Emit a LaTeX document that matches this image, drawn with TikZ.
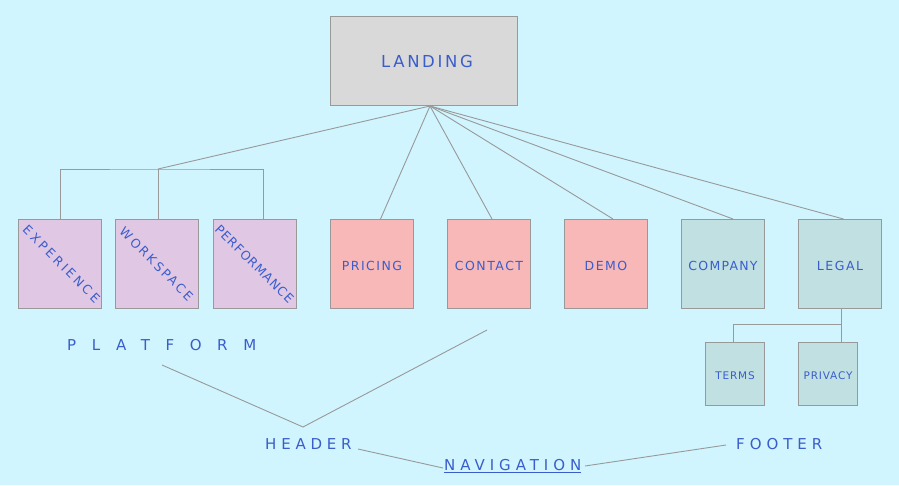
\documentclass[tikz,border=0pt]{standalone}
\usepackage{fontspec}
\setmainfont{DejaVu Sans}
\newcommand{\lsp}[2]{{\addfontfeature{LetterSpace=#1}#2}}
\newcommand{\rot}[2]{\makebox[0pt][c]{\hspace{#1}\rotatebox{-45}{#2}}}
\definecolor{bgc}{HTML}{D0F5FE}
\definecolor{txc}{HTML}{3B5DCC}
\definecolor{edg}{HTML}{999999}
\definecolor{grayf}{HTML}{D9D9D9}
\definecolor{lavf}{HTML}{E0C8E4}
\definecolor{pinkf}{HTML}{F8B8B8}
\definecolor{tealf}{HTML}{C0E0E2}
\tikzset{
  boxbase/.style={draw=edg, line width=1pt, inner sep=0pt, minimum width=83pt, minimum height=89pt, text=txc, font=\fontsize{12.5}{14}\selectfont},
  box/.style={boxbase, text height=13pt, text depth=0pt},
  rotbox/.style={boxbase, fill=lavf},
  smallbox/.style={boxbase, minimum width=59pt, minimum height=63pt, font=\fontsize{10.5}{12}\selectfont, text height=11.2pt, text depth=0pt},
  conn/.style={draw=edg, line width=0.9pt},
  lbl/.style={text=txc, inner sep=0pt, font=\fontsize{15}{17}\selectfont},
}
\begin{document}
\begin{tikzpicture}[x=1pt,y=-1pt]
\fill[bgc] (0,0) rectangle (899,485);
\useasboundingbox (0,0) rectangle (899,485);
% nodes
\node[boxbase, fill=grayf, minimum width=187pt, minimum height=89pt, font=\fontsize{16.5}{19}\selectfont, text height=12pt, text depth=0pt] (landing) at (424,61) {\hspace{6pt}\lsp{16}{LANDING}};
\node[rotbox] (exp) at (60,264) {\raisebox{-4pt}{\rot{3pt}{\lsp{22}{EXPERIENCE}}}};
\node[rotbox] (work) at (157,264) {\raisebox{-2pt}{\rot{-1pt}{\lsp{19}{WORKSPACE}}}};
\node[rotbox] (perf) at (255,264) {\raisebox{-1pt}{\rot{-1pt}{\lsp{8}{PERFORMANCE}}}};
\node[box, fill=pinkf] (pricing) at (372,264) {\lsp{12}{PRICING}};
\node[box, fill=pinkf] (contact) at (489,264) {\lsp{12}{CONTACT}};
\node[box, fill=pinkf] (demo) at (606,264) {\lsp{12}{DEMO}};
\node[box, fill=tealf] (company) at (723,264) {\lsp{10}{COMPANY}};
\node[box, fill=tealf] (legal) at (840,264) {\lsp{12}{LEGAL}};
\node[smallbox, fill=tealf] (terms) at (735,374) {\lsp{8}{TERMS}};
\node[smallbox, fill=tealf] (privacy) at (828,374) {\lsp{8}{PRIVACY}};
% labels
\node[lbl, anchor=west] (platform) at (67,345) {\lsp{104}{PLATFORM}};
\node[lbl, anchor=west] (header) at (265,444) {\lsp{32}{HEADER}};
\node[lbl, anchor=west] (nav) at (444,466) {\underline{\lsp{33}{NAVIGATION}}};
\node[lbl, anchor=west] (footer) at (736,444) {\lsp{33}{FOOTER}};
% connectors
\coordinate (hub) at ([xshift=6pt]landing.south);
\coordinate (pb) at (158,169);
\draw[conn] (hub) -- (pb);
\draw[conn] (exp.north) |- (pb) -| ([xshift=8pt]perf.north);
\draw[conn] (pb) -- ([xshift=1pt]work.north);
\draw[conn] (hub) -- ([xshift=8.5pt]pricing.north);
\draw[conn] (hub) -- ([xshift=3pt]contact.north);
\draw[conn] (hub) -- ([xshift=7pt]demo.north);
\draw[conn] (hub) -- ([xshift=10pt]company.north);
\draw[conn] (hub) -- ([xshift=3.5pt]legal.north);
\coordinate (lb) at ([xshift=1.5pt]legal.south);
\draw[conn] (lb) -- ([xshift=13.5pt]privacy.north);
\draw[conn] (lb) |- (733,324) -- ([xshift=-2pt]terms.north);
\coordinate (vl) at (162,365);
\coordinate (vm) at (303,427);
\coordinate (vr) at (487,330);
\draw[conn] (vl) -- (vm) -- (vr);
\coordinate (hn1) at (358,449);
\coordinate (hn2) at (443,468);
\draw[conn] (hn1) -- (hn2);
\coordinate (nf1) at (585,466);
\coordinate (nf2) at (726,445);
\draw[conn] (nf1) -- (nf2);
\end{tikzpicture}
\end{document}
